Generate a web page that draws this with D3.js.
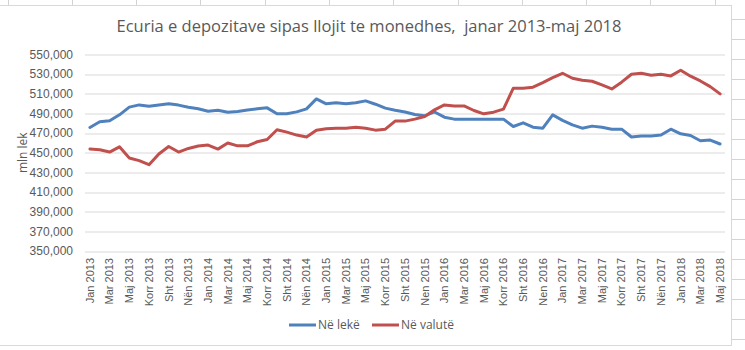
<!DOCTYPE html>
<html>
<head>
<meta charset="utf-8">
<script src="https://cdn.jsdelivr.net/npm/d3@7"></script>
<style>
  body { margin: 0; background: #fff; }
  svg { font-family: "Open Sans", Roboto, sans-serif; }
</style>
</head>
<body>
<svg id="chart" width="745" height="350"></svg>
<script>
'use strict';

// months Jan 2013 .. Maj 2018 (Albanian abbreviations as in the source)
const monthNames = ["Jan", "Shk", "Mar", "Pri", "Maj", "Qer", "Korr", "Gus", "Sht", "Tet", "Nën", "Dhj"];
const years = [2013, 2014, 2015, 2016, 2017, 2018];

// labels shown every second month, spelled as in the picture
const tickLabels = [
	"Jan 2013", "Mar 2013", "Maj 2013", "Korr 2013", "Sht 2013", "Nën 2013",
	"Jan 2014", "Mar 2014", "Maj 2014", "Korr 2014", "Sht 2014", "Nën 2014",
	"Jan 2015", "Mar 2015", "Maj 2015", "Korr 2015", "Sht 2015", "Nen 2015",
	"Jan 2016", "Mar 2016", "Maj 2016", "Korr 2016", "Sht 2016", "Nen 2016",
	"Jan 2017", "Mar 2017", "Maj 2017", "Korr 2017", "Sht 2017", "Nën 2017",
	"Jan 2018", "Mar 2018", "Maj 2018"
];

const neLeke = [
	475700, 481500, 482500, 488600, 496400, 498700, 497400, 498500, 499800, 498500, 496400, 494700,
	492300, 493300, 491300, 492000, 493500, 494700, 495700, 489600, 489600, 491600, 494700, 504800,
	499800, 500800, 499800, 500800, 502800, 499400, 495400, 493300, 491500, 488900, 487600, 491500,
	486200, 484200, 484200, 484200, 484200, 484200, 484200, 476700, 480500, 476000, 475000, 488600,
	483000, 478400, 475000, 477100, 476000, 474000, 474000, 466000, 467000, 467000, 468000, 474000,
	469300, 467600, 462200, 462900, 458900
];

const neValute = [
	453800, 453000, 450700, 456000, 444600, 442000, 437800, 448700, 456400, 450700, 454400, 456800,
	457800, 453700, 459900, 457000, 457000, 461200, 463500, 473400, 471000, 468000, 466000, 473000,
	474400, 475000, 475000, 476000, 475000, 473000, 474000, 482200, 482200, 484200, 486900, 493700,
	498700, 497700, 497700, 493000, 489600, 491300, 494400, 515700, 515700, 516700, 521400, 526500,
	530900, 525800, 523800, 522800, 519000, 515000, 521800, 529900, 530900, 528900, 529900, 528200,
	534000, 527900, 523100, 517300, 509900
];

const yTicks = d3.range(350000, 550001, 20000);

const months = [];
years.forEach(function (yr) {
	monthNames.forEach(function (m) {
		if (months.length < neLeke.length) months.push(m + " " + yr);
	});
});

const series = [
	{ name: "Në lekë", values: neLeke, color: "#4f81bd" },
	{ name: "Në valutë", values: neValute, color: "#c0504d" }
];

const svg = d3.select("#chart");
const grey = "#595959";

// spreadsheet cells around the chart object
const sheet = svg.append("g").attr("stroke", "#d4d4d4").attr("stroke-width", 1);
for (let x = 7.5; x < 745; x += 64.3) {
	sheet.append("line").attr("x1", Math.round(x) + 0.5).attr("x2", Math.round(x) + 0.5).attr("y1", 0).attr("y2", 5);
}
for (let y = 18.5; y < 350; y += 20) {
	sheet.append("line").attr("x1", 732).attr("x2", 745).attr("y1", Math.round(y) + 0.5).attr("y2", Math.round(y) + 0.5);
}
svg.append("rect")
	.attr("x", -1).attr("y", 5.5).attr("width", 732.5).attr("height", 340)
	.attr("fill", "#fff").attr("stroke", "#d9d9d9");

const margin = { top: 54.5, left: 85, right: 20, bottom: 99 };
const width = 725 - margin.left,
	height = 251 - margin.top;

const g = svg.append("g").attr("transform", "translate(" + margin.left + "," + margin.top + ")");

const x = d3.scaleBand().domain(months).range([0, width]);
const y = d3.scaleLinear().domain([350000, 550000]).range([height, 0]);

// grid
g.append("g")
	.selectAll("line")
	.data(yTicks)
	.enter().append("line")
	.attr("x1", 0).attr("x2", width)
	.attr("y1", function (d) { return Math.round(y(d)) + 0.5; })
	.attr("y2", function (d) { return Math.round(y(d)) + 0.5; })
	.attr("stroke", "#d9d9d9");

// y axis labels
const yAxis = g.append("g")
	.call(d3.axisLeft(y).tickValues(yTicks).tickFormat(d3.format(",")).tickSize(0).tickPadding(12));
yAxis.select(".domain").remove();
yAxis.selectAll("text").attr("fill", grey).style("font-size", "12px");

// x axis labels, every second month
const shown = months.filter(function (d, i) { return i % 2 === 0; });
const xAxis = g.append("g")
	.attr("transform", "translate(0," + height + ")")
	.call(d3.axisBottom(x).tickValues(shown).tickFormat(function (d, i) { return tickLabels[i]; }).tickSize(0));
xAxis.select(".domain").remove();
xAxis.selectAll("text")
	.attr("fill", grey)
	.style("font-size", "11px")
	.attr("transform", "rotate(-90)")
	.attr("text-anchor", "end")
	.attr("x", -7)
	.attr("y", 0)
	.attr("dy", "0.35em");

// lines
const line = d3.line()
	.x(function (d, i) { return x(months[i]) + x.bandwidth() / 2; })
	.y(function (d) { return y(d); });

series.forEach(function (s) {
	g.append("path")
		.datum(s.values)
		.attr("fill", "none")
		.attr("stroke", s.color)
		.attr("stroke-width", 3)
		.attr("stroke-linejoin", "round")
		.attr("stroke-linecap", "round")
		.attr("d", line);
});

// title
svg.append("text")
	.attr("x", 369).attr("y", 32)
	.attr("text-anchor", "middle")
	.attr("fill", grey)
	.style("font-size", "16.5px")
	.text("Ecuria e depozitave sipas llojit te monedhes,  janar 2013-maj 2018")
	.style("white-space", "pre");

// y label
svg.append("text")
	.attr("transform", "translate(27," + (margin.top + height / 2) + ") rotate(-90)")
	.attr("text-anchor", "middle")
	.attr("fill", grey)
	.style("font-size", "12px")
	.text("mln lek");

// legend
const legend = svg.append("g").attr("transform", "translate(289,325)");
const legX = [0, 83];
series.forEach(function (s, i) {
	const lg = legend.append("g").attr("transform", "translate(" + legX[i] + ",0)");
	lg.append("line").attr("x1", 0).attr("x2", 27).attr("y1", 0).attr("y2", 0)
		.attr("stroke", s.color).attr("stroke-width", 3);
	lg.append("text").attr("x", 29).attr("y", 0).attr("dy", "0.35em")
		.attr("fill", grey).style("font-size", "12px").text(s.name);
});
</script>
</body>
</html>
